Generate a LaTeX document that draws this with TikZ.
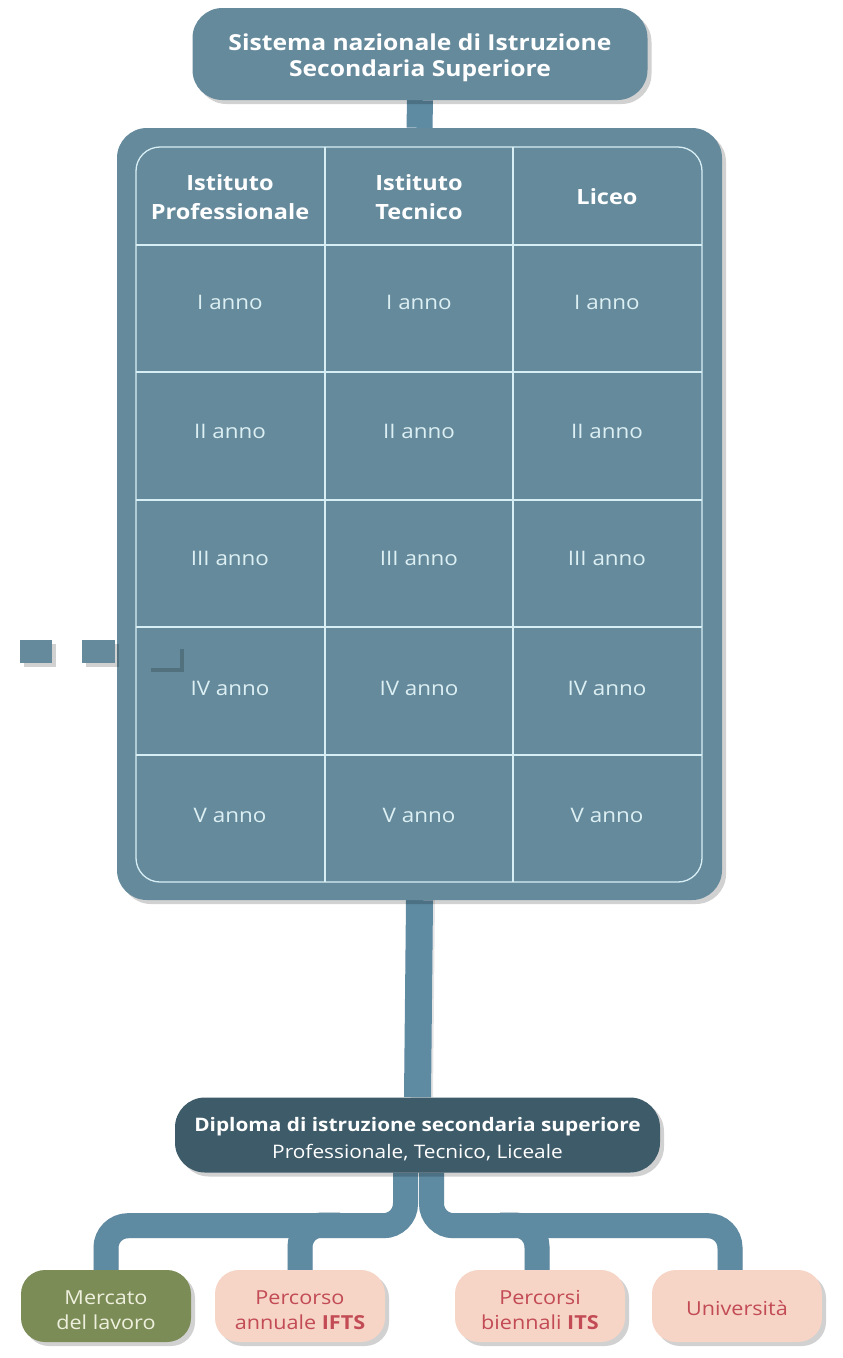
\documentclass[tikz,border=0pt]{standalone}
\usepackage{fontspec}
\setmainfont[FakeStretch=1.12]{Open Sans}
\usetikzlibrary{shadows,calc,backgrounds}
\definecolor{boxblue}{HTML}{658A9C}
\definecolor{pipeblue}{HTML}{5E8AA2}
\definecolor{darkbox}{HTML}{3E5B69}
\definecolor{olive}{HTML}{7B8C57}
\definecolor{pinkbox}{HTML}{F6D4C6}
\definecolor{pinktext}{HTML}{C24B55}
\definecolor{olivetext}{HTML}{EEF0DD}
\definecolor{gridline}{HTML}{D8EEF5}
\definecolor{yeartext}{HTML}{DCEFF3}
\tikzset{
  shade/.style={drop shadow={shadow xshift=4pt, shadow yshift=-4pt, opacity=0.18, fill=black}},
  bluebox/.style={draw=none, fill=boxblue, rounded corners=30pt, shade, inner sep=0pt},
  darkboxst/.style={draw=none, fill=darkbox, rounded corners=30pt, shade, inner sep=0pt,
     text=white, align=center},
  endbox/.style={draw=none, rounded corners=24pt, shade, minimum width=170pt, minimum height=72pt,
     inner sep=0pt, align=center},
  endtxt/.style={align=center, inner sep=0pt, font=\fontsize{19.3}{25}\selectfont},
  olivebox/.style={endbox, fill=olive},
  pinkboxst/.style={endbox, fill=pinkbox},
  pipe/.style={draw=pipeblue, line width=25pt, rounded corners=22pt},
  pipeshadow/.style={draw=black, opacity=0.10, line width=25pt, rounded corners=22pt},
  headtxt/.style={text=white, align=center, font=\fontsize{21}{29}\selectfont\bfseries},
  yeartxt/.style={text=yeartext, font=\fontsize{20}{26}\selectfont},
  grid/.style={draw=gridline, line width=1.3pt},
  dashsq/.style={fill=boxblue, draw=none, shade},
}
\begin{document}
\begin{tikzpicture}[x=1pt,y=-1pt]
\useasboundingbox (0,0) rectangle (843,1358);
\begin{scope}[on background layer]
\fill[white] (0,0) rectangle (843,1358);
\end{scope}

% top box
\node[bluebox, minimum width=455pt, minimum height=92pt] (top) at (420,54) {};
\node[text=white, align=center, font=\fontsize{22}{26}\selectfont\bfseries] (toptxt) at (420,58)
  {Sistema nazionale di Istruzione\\Secondaria Superiore};

% main box
\node[bluebox, minimum width=605pt, minimum height=772pt] (main) at (419.5,514) {};

% inner table frame
\draw[grid, rounded corners=24pt] (136,147) rectangle (702,882);
\foreach \x in {325,513} \draw[grid] (\x,147) -- (\x,882);
\foreach \y in {245,372,500,627,755} \draw[grid] (136,\y) -- (702,\y);

% headers
\node[headtxt] (h1) at (230,197) {Istituto\\Professionale};
\node[headtxt] (h2) at (419,197) {Istituto\\Tecnico};
\node[headtxt] (h3) at (607,197) {Liceo};

% years
\foreach \lab/\yy/\n in {I anno/302/1, II anno/431/2, III anno/558/3, IV anno/688/4, V anno/815/5}{
  \node[yeartxt] (a\n) at (230,\yy) {\lab};
  \node[yeartxt] (b\n) at (419,\yy) {\lab};
  \node[yeartxt] (c\n) at (607,\yy) {\lab};
}

% dashed squares on the left
\node[dashsq, minimum width=32pt, minimum height=23pt, inner sep=0pt] (d1) at (36,651) {};
\node[dashsq, minimum width=33pt, minimum height=23pt, inner sep=0pt] (d2) at (98,651) {};
\node[dashsq, minimum width=33pt, minimum height=23pt, inner sep=0pt] (d3) at (163,656) {};

% diploma
\node[darkboxst, minimum width=485pt, minimum height=75pt] (dipl) at (417.5,1135) {};
\node[text=white, align=center, font=\fontsize{18.6}{27}\selectfont] (dipltxt) at (417.5,1139)
  {\textbf{Diploma di istruzione secondaria superiore}\\
   Professionale, Tecnico, Liceale};

% end boxes
\node[olivebox] (merc) at (106,1306) {};
\node[endtxt, text=olivetext] (merctxt) at (106,1310) {Mercato\\del lavoro};
\node[pinkboxst] (ifts) at (300,1306) {};
\node[endtxt, text=pinktext] (iftstxt) at (300,1310) {Percorso\\annuale \textbf{IFTS}};
\node[pinkboxst] (its) at (540,1306) {};
\node[endtxt, text=pinktext] (itstxt) at (540,1310) {Percorsi\\biennali \textbf{ITS}};
\node[pinkboxst] (univ) at (737,1306) {};
\node[endtxt, text=pinktext] (univtxt) at (737,1308) {Università};

\coordinate (bl) at (340,1225);
\coordinate (br) at (500,1225);

% connectors (behind boxes)
\begin{scope}[on background layer]
  \draw[draw=pipeblue, line width=26pt] (top.south) -- (main.north);
  \draw[pipeshadow] ([xshift=3pt,yshift=3pt]main.south) -- ([xshift=3pt]dipl.north);
  \draw[draw=pipeblue, line width=27pt] (main.south) -- (dipl.north);
  \draw[pipeshadow, shift={(3,3)}] ([xshift=-12pt]dipl.south) -- ++(0,53) -| (merc.north);
  \draw[pipeshadow, shift={(3,3)}] (bl) -| (ifts.north);
  \draw[pipeshadow, shift={(3,3)}] ([xshift=14pt]dipl.south) -- ++(0,53) -| ([xshift=-7pt]univ.north);
  \draw[pipeshadow, shift={(3,3)}] (br) -| ([xshift=-3pt]its.north);
  \draw[pipe] ([xshift=-12pt]dipl.south) -- ++(0,53) -| (merc.north);
  \draw[pipe] (bl) -| (ifts.north);
  \draw[pipe] ([xshift=14pt]dipl.south) -- ++(0,53) -| ([xshift=-7pt]univ.north);
  \draw[pipe] (br) -| ([xshift=-3pt]its.north);
\end{scope}
\end{tikzpicture}
\end{document}
